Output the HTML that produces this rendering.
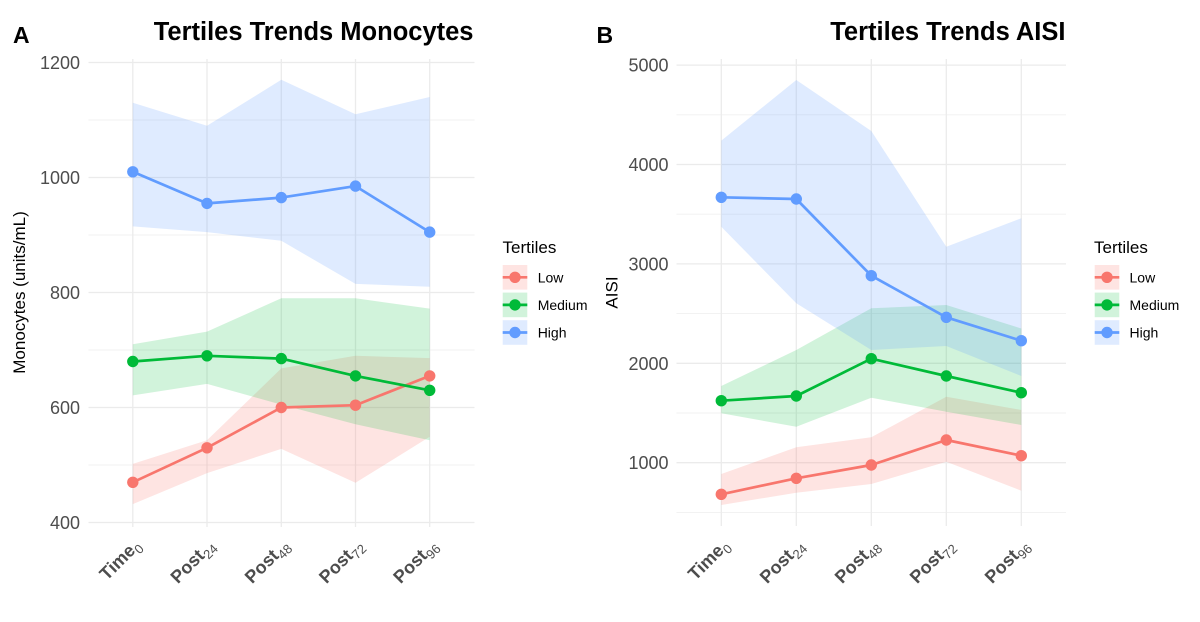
<!DOCTYPE html>
<html>
<head>
<meta charset="utf-8">
<style>
html,body{margin:0;padding:0;background:#fff;}
svg{display:block;}
text{font-family:"Liberation Sans",Arial,sans-serif;}
</style>
</head>
<body>
<svg width="1200" height="622" viewBox="0 0 1200 622" xmlns="http://www.w3.org/2000/svg">
<rect x="0" y="0" width="1200" height="622" fill="#ffffff"/>

<!-- ================= PANEL A ================= -->
<g>
  <g stroke="#f0f0f0" stroke-width="0.9">
    <line x1="88.5" x2="474.5" y1="120" y2="120"/>
    <line x1="88.5" x2="474.5" y1="235" y2="235"/>
    <line x1="88.5" x2="474.5" y1="350" y2="350"/>
    <line x1="88.5" x2="474.5" y1="465" y2="465"/>
  </g>
  <g stroke="#ebebeb" stroke-width="1.3">
    <line x1="88.5" x2="474.5" y1="62.5" y2="62.5"/>
    <line x1="88.5" x2="474.5" y1="177.5" y2="177.5"/>
    <line x1="88.5" x2="474.5" y1="292.5" y2="292.5"/>
    <line x1="88.5" x2="474.5" y1="407.5" y2="407.5"/>
    <line x1="88.5" x2="474.5" y1="522.5" y2="522.5"/>
    <line x1="132.8" x2="132.8" y1="59" y2="527"/>
    <line x1="207" x2="207" y1="59" y2="527"/>
    <line x1="281.3" x2="281.3" y1="59" y2="527"/>
    <line x1="355.5" x2="355.5" y1="59" y2="527"/>
    <line x1="429.7" x2="429.7" y1="59" y2="527"/>
  </g>

  <polygon fill="#F8766D" fill-opacity="0.2" points="132.8,463.9 207,440.3 281.3,368.4 355.5,355.8 429.7,358.1 429.7,436.8 355.5,482.8 281.3,448.9 207,473.1 132.8,504.1"/>
  <polygon fill="#00BA38" fill-opacity="0.18" points="132.8,344.3 207,331.6 281.3,298.3 355.5,298.3 429.7,308.6 429.7,440.3 355.5,424.2 281.3,404.6 207,383.9 132.8,395.4"/>
  <polygon fill="#619CFF" fill-opacity="0.2" points="132.8,102.8 207,125.8 281.3,79.8 355.5,114.3 429.7,97.0 429.7,286.8 355.5,283.9 281.3,240.8 207,232.1 132.8,226.4"/>

  <g fill="none" stroke-width="2.7" stroke-linejoin="round">
    <polyline stroke="#F8766D" points="132.8,482.3 207,447.8 281.3,407.5 355.5,405.2 429.7,375.9"/>
    <polyline stroke="#00BA38" points="132.8,361.5 207,355.8 281.3,358.6 355.5,375.9 429.7,390.3"/>
    <polyline stroke="#619CFF" points="132.8,171.8 207,203.4 281.3,197.6 355.5,186.1 429.7,232.1"/>
  </g>
  <g fill="#F8766D">
    <circle cx="132.8" cy="482.3" r="5.7"/><circle cx="207" cy="447.8" r="5.7"/><circle cx="281.3" cy="407.5" r="5.7"/><circle cx="355.5" cy="405.2" r="5.7"/><circle cx="429.7" cy="375.9" r="5.7"/>
  </g>
  <g fill="#00BA38">
    <circle cx="132.8" cy="361.5" r="5.7"/><circle cx="207" cy="355.8" r="5.7"/><circle cx="281.3" cy="358.6" r="5.7"/><circle cx="355.5" cy="375.9" r="5.7"/><circle cx="429.7" cy="390.3" r="5.7"/>
  </g>
  <g fill="#619CFF">
    <circle cx="132.8" cy="171.8" r="5.7"/><circle cx="207" cy="203.4" r="5.7"/><circle cx="281.3" cy="197.6" r="5.7"/><circle cx="355.5" cy="186.1" r="5.7"/><circle cx="429.7" cy="232.1" r="5.7"/>
  </g>

  <g font-size="18" fill="#4d4d4d" text-anchor="end">
    <text x="80" y="69">1200</text>
    <text x="80" y="184">1000</text>
    <text x="80" y="299">800</text>
    <text x="80" y="414">600</text>
    <text x="80" y="529">400</text>
  </g>

  <g font-size="18" font-weight="bold" fill="#4d4d4d" text-anchor="end">
    <text transform="translate(141.5,546.5) rotate(-45)">Time<tspan font-size="13" font-weight="normal" dy="4.5">0</tspan></text>
    <text transform="translate(215.7,546.5) rotate(-45)">Post<tspan font-size="13" font-weight="normal" dy="4.5">24</tspan></text>
    <text transform="translate(290,546.5) rotate(-45)">Post<tspan font-size="13" font-weight="normal" dy="4.5">48</tspan></text>
    <text transform="translate(364.2,546.5) rotate(-45)">Post<tspan font-size="13" font-weight="normal" dy="4.5">72</tspan></text>
    <text transform="translate(438.4,546.5) rotate(-45)">Post<tspan font-size="13" font-weight="normal" dy="4.5">96</tspan></text>
  </g>

  <text transform="translate(25,292.5) rotate(-90)" font-size="17" fill="#000" text-anchor="middle">Monocytes (units/mL)</text>

  <text x="473.5" y="40" font-size="25.5" font-weight="bold" fill="#000" text-anchor="end">Tertiles Trends Monocytes</text>
  <text x="13" y="43" font-size="23" font-weight="bold" fill="#000">A</text>

  <text x="502.5" y="253" font-size="17" fill="#000">Tertiles</text>
  <rect x="502.7" y="265" width="24.6" height="24.6" fill="#F8766D" fill-opacity="0.2"/>
  <rect x="502.7" y="292.6" width="24.6" height="24.6" fill="#00BA38" fill-opacity="0.18"/>
  <rect x="502.7" y="320.2" width="24.6" height="24.6" fill="#619CFF" fill-opacity="0.2"/>
  <line x1="502.7" x2="527.3" y1="277.3" y2="277.3" stroke="#F8766D" stroke-width="2.7"/>
  <line x1="502.7" x2="527.3" y1="304.9" y2="304.9" stroke="#00BA38" stroke-width="2.7"/>
  <line x1="502.7" x2="527.3" y1="332.5" y2="332.5" stroke="#619CFF" stroke-width="2.7"/>
  <circle cx="515" cy="277.3" r="5.7" fill="#F8766D"/>
  <circle cx="515" cy="304.9" r="5.7" fill="#00BA38"/>
  <circle cx="515" cy="332.5" r="5.7" fill="#619CFF"/>
  <g font-size="14" fill="#000">
    <text x="537.7" y="282.5">Low</text>
    <text x="537.7" y="310">Medium</text>
    <text x="537.7" y="337.6">High</text>
  </g>
</g>

<!-- ================= PANEL B ================= -->
<g>
  <g stroke="#f0f0f0" stroke-width="0.9">
    <line x1="676.5" x2="1066" y1="114.8" y2="114.8"/>
    <line x1="676.5" x2="1066" y1="214.2" y2="214.2"/>
    <line x1="676.5" x2="1066" y1="313.6" y2="313.6"/>
    <line x1="676.5" x2="1066" y1="413" y2="413"/>
    <line x1="676.5" x2="1066" y1="512.4" y2="512.4"/>
  </g>
  <g stroke="#ebebeb" stroke-width="1.3">
    <line x1="676.5" x2="1066" y1="65.1" y2="65.1"/>
    <line x1="676.5" x2="1066" y1="164.5" y2="164.5"/>
    <line x1="676.5" x2="1066" y1="263.9" y2="263.9"/>
    <line x1="676.5" x2="1066" y1="363.3" y2="363.3"/>
    <line x1="676.5" x2="1066" y1="462.7" y2="462.7"/>
    <line x1="721.3" x2="721.3" y1="59" y2="526"/>
    <line x1="796.3" x2="796.3" y1="59" y2="526"/>
    <line x1="871.3" x2="871.3" y1="59" y2="526"/>
    <line x1="946.3" x2="946.3" y1="59" y2="526"/>
    <line x1="1021.3" x2="1021.3" y1="59" y2="526"/>
  </g>

  <polygon fill="#F8766D" fill-opacity="0.2" points="721.3,474.0 796.3,447.3 871.3,437.3 946.3,396.7 1021.3,410.0 1021.3,490.7 946.3,461.7 871.3,484.0 796.3,492.7 721.3,505.0"/>
  <polygon fill="#00BA38" fill-opacity="0.18" points="721.3,386.0 796.3,350.0 871.3,308.3 946.3,305.0 1021.3,328.5 1021.3,425.0 946.3,411.7 871.3,397.7 796.3,426.7 721.3,413.3"/>
  <polygon fill="#619CFF" fill-opacity="0.2" points="721.3,140.6 796.3,80.0 871.3,131.0 946.3,246.7 1021.3,218.3 1021.3,376.0 946.3,346.0 871.3,350.0 796.3,303.3 721.3,226.7"/>

  <g fill="none" stroke-width="2.7" stroke-linejoin="round">
    <polyline stroke="#F8766D" points="721.3,494.3 796.3,478.3 871.3,465.0 946.3,440.0 1021.3,455.7"/>
    <polyline stroke="#00BA38" points="721.3,400.7 796.3,396.0 871.3,358.7 946.3,376.0 1021.3,392.7"/>
    <polyline stroke="#619CFF" points="721.3,197.3 796.3,199.0 871.3,275.7 946.3,317.3 1021.3,340.7"/>
  </g>
  <g fill="#F8766D">
    <circle cx="721.3" cy="494.3" r="5.7"/><circle cx="796.3" cy="478.3" r="5.7"/><circle cx="871.3" cy="465.0" r="5.7"/><circle cx="946.3" cy="440.0" r="5.7"/><circle cx="1021.3" cy="455.7" r="5.7"/>
  </g>
  <g fill="#00BA38">
    <circle cx="721.3" cy="400.7" r="5.7"/><circle cx="796.3" cy="396.0" r="5.7"/><circle cx="871.3" cy="358.7" r="5.7"/><circle cx="946.3" cy="376.0" r="5.7"/><circle cx="1021.3" cy="392.7" r="5.7"/>
  </g>
  <g fill="#619CFF">
    <circle cx="721.3" cy="197.3" r="5.7"/><circle cx="796.3" cy="199.0" r="5.7"/><circle cx="871.3" cy="275.7" r="5.7"/><circle cx="946.3" cy="317.3" r="5.7"/><circle cx="1021.3" cy="340.7" r="5.7"/>
  </g>

  <g font-size="18" fill="#4d4d4d" text-anchor="end">
    <text x="668.5" y="71.6">5000</text>
    <text x="668.5" y="171">4000</text>
    <text x="668.5" y="270.4">3000</text>
    <text x="668.5" y="369.8">2000</text>
    <text x="668.5" y="469.2">1000</text>
  </g>

  <g font-size="18" font-weight="bold" fill="#4d4d4d" text-anchor="end">
    <text transform="translate(730,546.5) rotate(-45)">Time<tspan font-size="13" font-weight="normal" dy="4.5">0</tspan></text>
    <text transform="translate(805,546.5) rotate(-45)">Post<tspan font-size="13" font-weight="normal" dy="4.5">24</tspan></text>
    <text transform="translate(880,546.5) rotate(-45)">Post<tspan font-size="13" font-weight="normal" dy="4.5">48</tspan></text>
    <text transform="translate(955,546.5) rotate(-45)">Post<tspan font-size="13" font-weight="normal" dy="4.5">72</tspan></text>
    <text transform="translate(1030,546.5) rotate(-45)">Post<tspan font-size="13" font-weight="normal" dy="4.5">96</tspan></text>
  </g>

  <text transform="translate(617.5,292.5) rotate(-90)" font-size="17" fill="#000" text-anchor="middle">AISI</text>

  <text x="1065.5" y="40" font-size="25.5" font-weight="bold" fill="#000" text-anchor="end">Tertiles Trends AISI</text>
  <text x="596.5" y="43" font-size="23" font-weight="bold" fill="#000">B</text>

  <text x="1094" y="253" font-size="17" fill="#000">Tertiles</text>
  <rect x="1094.7" y="265" width="24.6" height="24.6" fill="#F8766D" fill-opacity="0.2"/>
  <rect x="1094.7" y="292.6" width="24.6" height="24.6" fill="#00BA38" fill-opacity="0.18"/>
  <rect x="1094.7" y="320.2" width="24.6" height="24.6" fill="#619CFF" fill-opacity="0.2"/>
  <line x1="1094.7" x2="1119.3" y1="277.3" y2="277.3" stroke="#F8766D" stroke-width="2.7"/>
  <line x1="1094.7" x2="1119.3" y1="304.9" y2="304.9" stroke="#00BA38" stroke-width="2.7"/>
  <line x1="1094.7" x2="1119.3" y1="332.5" y2="332.5" stroke="#619CFF" stroke-width="2.7"/>
  <circle cx="1107" cy="277.3" r="5.7" fill="#F8766D"/>
  <circle cx="1107" cy="304.9" r="5.7" fill="#00BA38"/>
  <circle cx="1107" cy="332.5" r="5.7" fill="#619CFF"/>
  <g font-size="14" fill="#000">
    <text x="1129.5" y="282.5">Low</text>
    <text x="1129.5" y="310">Medium</text>
    <text x="1129.5" y="337.6">High</text>
  </g>
</g>
</svg>
</body>
</html>
